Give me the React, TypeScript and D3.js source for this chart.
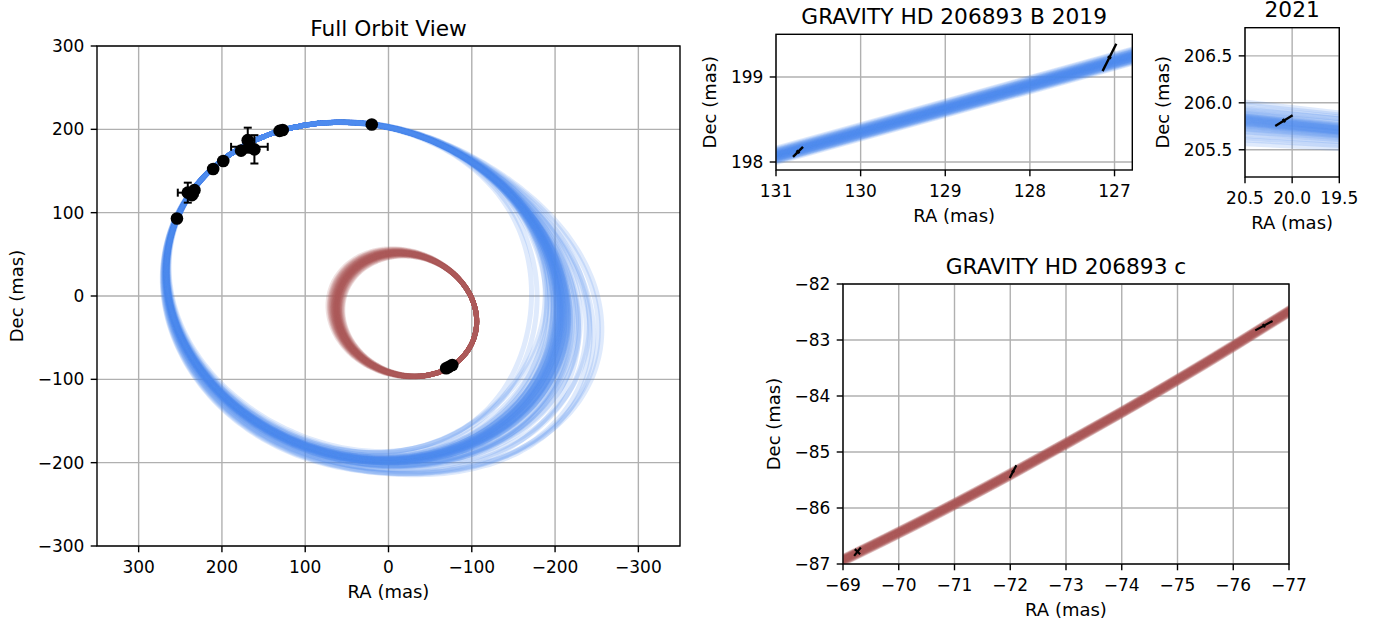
import * as d3 from "d3";

// ---- data ----
// full orbit view: best-fit projected orbits (centre RA, centre Dec, semi-major, semi-minor in mas, tilt in deg)
const bOrbit = [30.5, 5.8, 240, 198, -18.5];
const cOrbit = [-22.3, -22.7, 85, 72, -20];
// angle (deg) of the well-constrained arc and of the directions where the draws fan out
const bFixedAngle = 123;
const bFanAngle = -15;
const bSideAngle = 200;
const cFanAngle = 160;
// posterior draws: radial fan-out factor and fan direction shift (deg)
const bDraw = [0.05, -0.12, 0.15, 0.02, -0.25, 0.32, 0.08, -0.06, 0.2, 0.0, -0.15, 0.55, 0.1, -0.03, 0.26, -0.36, 0.06, 0.17, -0.09, 0.42, 0.03, -0.18, 0.65, 0.09, -0.05, 0.23, 0.01, -0.28, 0.14, 0.5, -0.11, 0.05, 0.35, -0.02, 0.12, -0.45, 0.18, 0.6, -0.08, 0.04, 0.3, -0.21, 0.07, 0.46, -0.04, 0.13, -0.01, 0.22, 0.03, -0.07, 0.11, -0.01, 0.06, -0.1, 0.0, 0.08, -0.04, 0.02, 0.13, -0.02];
const bShift = [4, -8, 12, 0, -15, 6, -3, 10, -12, 2, 8, -6, 14, -10, 3, 9, -4, -14, 7, -2, 11, -9, 5, -5, 15, -1, 6, -11, 1, -7, 13, -3, -16, 8, 0, 10, -6, 3, -13, 5, -2, 12, -8, 7, -4, 2, 9, -10, 3, -5, 0, 6, -2, 8, -7, 1, 4, -3, 2, -1];
const cDraw = [0.01, 0.04, -0.02, 0.07, 0.0, -0.05, 0.03, 0.1, -0.01, 0.05, 0.02, -0.07, 0.12, 0.0, 0.03, -0.03, 0.06, 0.01, -0.04, 0.08, 0.02, 0.0, 0.14, -0.02, 0.04, 0.01, -0.06, 0.05, 0.09, -0.01, 0.03, 0.0, 0.11, -0.03, 0.02, 0.06, -0.08, 0.04, 0.01, 0.07];

// astrometry points: RA, Dec, RA err, Dec err
const bPtRA = [254, 241, 233, 236, 210.5, 198.4, 177, 169, 167, 161, 130.74, 127.06, 20.09];
const bPtDec = [93, 124, 127, 121, 152.4, 162, 174.4, 187, 179, 176, 198.12, 199.23, 205.81];
const bPtRAErr = [2, 12, 3, 3, 2, 2, 3, 3, 22, 4, 0.1, 0.1, 0.1];
const bPtDecErr = [2, 12, 3, 3, 2, 2, 3, 15, 4, 17, 0.1, 0.1, 0.1];
const cPtRA = [-69.26, -72.05, -76.55];
const cPtDec = [-86.78, -85.35, -82.745];

// zoomed GRAVITY epochs: track samples
const b19TrackRA = [131.3, 126.5];
const b19TrackDec = [197.99, 199.32];
const b19Offset = [0.01, -0.03, 0.04, -0.01, 0.06, -0.05, 0.02, 0.0, -0.07, 0.03, -0.02, 0.08, 0.01, -0.04, 0.05, -0.01, 0.02, -0.06, 0.03, 0.0, -0.03, 0.07, -0.02, 0.04, 0.01, -0.08, 0.02, -0.01, 0.05, -0.04, 0.03, 0.0, -0.05, 0.06, -0.02, 0.01, 0.09, -0.03, 0.02, -0.06];
const b21TrackRA = [20.6, 19.4];
const b21TrackDec = [205.81, 205.69];
const b21Offset = [0.02, -0.05, 0.08, -0.01, 0.04, -0.12, 0.0, 0.06, -0.03, 0.15, -0.08, 0.03, -0.2, 0.05, -0.02, 0.1, -0.06, 0.01, 0.21, -0.04, 0.07, -0.15, 0.02, -0.09, 0.04, 0.12, -0.01, -0.24, 0.06, -0.03, 0.18, -0.07, 0.0, 0.09, -0.11, 0.03, -0.18, 0.05, -0.02, 0.13];
const b21Tilt = [0.0, 0.01, -0.01, 0.0, 0.01, 0.03, 0.0, -0.01, 0.01, 0.0, 0.02, 0.0, 0.05, -0.01, 0.01, 0.0, 0.02, 0.0, -0.02, 0.01, 0.0, 0.04, 0.0, 0.02, -0.01, 0.01, 0.0, 0.06, 0.0, 0.01, -0.01, 0.02, 0.0, 0.0, 0.03, 0.0, 0.05, -0.01, 0.01, 0.0];
const cTrackRA = [-68.8, -69, -70, -71, -72, -73, -74, -75, -76, -77, -77.2];
const cTrackDec = [-87.03, -86.93, -86.44, -85.93, -85.4, -84.85, -84.29, -83.71, -83.11, -82.49, -82.36];
const cOffset = [0.0, 0.03, -0.02, 0.05, -0.04, 0.01, 0.02, -0.06, 0.04, -0.01, 0.06, -0.03, 0.0, 0.02, -0.05, 0.03, -0.02, 0.07, 0.01, -0.04, 0.02, -0.01, 0.04, -0.06, 0.0, 0.03, -0.03, 0.05, 0.01, -0.02, 0.06, -0.05, 0.02, 0.0, -0.07, 0.04, -0.01, 0.03, -0.03, 0.01];

// error crosses: RA, Dec, major half-axis (dRA, dDec), minor half-axis (dRA, dDec)
const b19Points = [
  [130.74, 198.12, -0.059, 0.059, -0.017, -0.017],
  [127.06, 199.23, -0.081, 0.161, -0.021, -0.0105],
];
const b21Points = [[20.087, 205.81, -0.092, 0.057, -0.011, -0.018]];
const cPoints = [
  [-69.26, -86.78, -0.06, 0.074, -0.048, -0.045],
  [-72.05, -85.35, -0.06, 0.113, -0.024, -0.0125],
  [-76.55, -82.745, -0.155, 0.083, -0.017, -0.031],
];

// tick labels
const fullTicks = [300, 200, 100, 0, -100, -200, -300];
const b19XTicks = [131, 130, 129, 128, 127];
const b19YTicks = [198, 199];
const b21XTicks = [20.5, 20.0, 19.5];
const b21YTicks = [205.5, 206.0, 206.5];
const cXTicks = [-69, -70, -71, -72, -73, -74, -75, -76, -77];
const cYTicks = [-87, -86, -85, -84, -83, -82];

const BLUE = "#4e8af0";
const RED = "#ae5757";
const FONT = "DejaVu Sans";
const LW = 5;
const ALPHA = 0.18;
const RAD = Math.PI / 180;

const fmt = (v: number, d: number) => (v < 0 ? "\u2212" : "") + Math.abs(v).toFixed(d);

type Scale = d3.ScaleLinear<number, number>;

function Panel({ id, box, xDomain, yDomain, xTicks, yTicks, xDigits, yDigits, title, yLabelGap, children }: any) {
  const x: Scale = d3.scaleLinear().domain(xDomain).range([box.x, box.x + box.w]);
  const y: Scale = d3.scaleLinear().domain(yDomain).range([box.y + box.h, box.y]);
  const bottom = box.y + box.h;
  return (
    <g>
      <defs>
        <clipPath id={id}>
          <rect x={box.x} y={box.y} width={box.w} height={box.h} />
        </clipPath>
      </defs>
      <rect x={box.x} y={box.y} width={box.w} height={box.h} fill="#fff" />
      {xTicks.map((t: number) => (
        <line key={"gx" + t} x1={x(t)} x2={x(t)} y1={box.y} y2={bottom} stroke="#b0b0b0" strokeWidth={1.4} />
      ))}
      {yTicks.map((t: number) => (
        <line key={"gy" + t} x1={box.x} x2={box.x + box.w} y1={y(t)} y2={y(t)} stroke="#b0b0b0" strokeWidth={1.4} />
      ))}
      <g clipPath={`url(#${id})`}>{children(x, y)}</g>
      <rect x={box.x} y={box.y} width={box.w} height={box.h} fill="none" stroke="#000" strokeWidth={1.4} />
      {xTicks.map((t: number) => (
        <g key={"tx" + t}>
          <line x1={x(t)} x2={x(t)} y1={bottom} y2={bottom + 6.3} stroke="#000" strokeWidth={1.4} />
          <text x={x(t)} y={bottom + 27} textAnchor="middle" fontSize={17}>{fmt(t, xDigits)}</text>
        </g>
      ))}
      {yTicks.map((t: number) => (
        <g key={"ty" + t}>
          <line x1={box.x - 6.3} x2={box.x} y1={y(t)} y2={y(t)} stroke="#000" strokeWidth={1.4} />
          <text x={box.x - 12.6} y={y(t)} dy="0.35em" textAnchor="end" fontSize={17}>{fmt(t, yDigits)}</text>
        </g>
      ))}
      <text x={box.x + box.w / 2} y={box.y - 10.5} textAnchor="middle" fontSize={21.7}>{title}</text>
      <text x={box.x + box.w / 2} y={bottom + 52} textAnchor="middle" fontSize={18}>RA (mas)</text>
      <text transform={`translate(${box.x - yLabelGap},${box.y + box.h / 2}) rotate(-90)`} dy="0.35em" textAnchor="middle" fontSize={18}>Dec (mas)</text>
    </g>
  );
}

// projected orbit, each point pushed radially by fan(angle) (angles measured with east = -RA to the right)
function orbitPath(orbit: number[], fan: (phi: number) => number, x: Scale, y: Scale) {
  const [cRA, cDec, a, b, tilt] = orbit;
  const ct = Math.cos(tilt * RAD), st = Math.sin(tilt * RAD);
  const pts = d3.range(0, 360, 2).map((t) => {
    const u = a * Math.cos(t * RAD) * ct - b * Math.sin(t * RAD) * st;
    const v = a * Math.cos(t * RAD) * st + b * Math.sin(t * RAD) * ct;
    const s = 1 + fan(Math.atan2(v, u) / RAD);
    return [x(cRA - u * s), y(cDec + v * s)] as [number, number];
  });
  return d3.line().curve(d3.curveCatmullRomClosed)(pts) || "";
}

const bump = (phi: number, centre: number, p: number) => Math.pow((1 + Math.cos((phi - centre) * RAD)) / 2, p);

function Cross({ p, x, y, w }: { p: number[]; x: Scale; y: Scale; w: number }) {
  const [ra, dec, a1, d1, a2, d2] = p;
  return (
    <g stroke="#000" strokeWidth={w}>
      <line x1={x(ra - a1)} y1={y(dec - d1)} x2={x(ra + a1)} y2={y(dec + d1)} />
      <line x1={x(ra - a2)} y1={y(dec - d2)} x2={x(ra + a2)} y2={y(dec + d2)} />
    </g>
  );
}

export default function App() {
  const straight = d3.line();
  const smooth = d3.line().curve(d3.curveNatural);
  const bFan = (g: number, k: number) => (phi: number) =>
    g * (1 - bump(phi, bFixedAngle, 1)) * (0.08 + 0.1 * bump(phi, bSideAngle, 3) + 0.32 * bump(phi, bFanAngle + bShift[k], 6));
  return (
    <svg width={1377} height={621} style={{ position: "absolute", left: 0, top: 0, background: "#fff" }} fontFamily={FONT}>
      <Panel id="full" box={{ x: 97, y: 46, w: 583, h: 500 }} xDomain={[350, -350]} yDomain={[-300, 300]}
        xTicks={fullTicks} yTicks={fullTicks} xDigits={0} yDigits={0} title="Full Orbit View" yLabelGap={80}>
        {(x: Scale, y: Scale) => (
          <g>
            {bDraw.map((g, k) => (
              <path key={"b" + k} d={orbitPath(bOrbit, bFan(g, k), x, y)}
                fill="none" stroke={BLUE} strokeWidth={LW} strokeOpacity={ALPHA} />
            ))}
            {cDraw.map((g, k) => (
              <path key={"c" + k} d={orbitPath(cOrbit, (phi) => g * bump(phi, cFanAngle, 2), x, y)}
                fill="none" stroke={RED} strokeWidth={LW} strokeOpacity={ALPHA} />
            ))}
            {bPtRA.map((r, i) => (
              <g key={"e" + i} stroke="#000" strokeWidth={2}>
                <line x1={x(r - bPtRAErr[i])} x2={x(r + bPtRAErr[i])} y1={y(bPtDec[i])} y2={y(bPtDec[i])} />
                <line x1={x(r)} x2={x(r)} y1={y(bPtDec[i] - bPtDecErr[i])} y2={y(bPtDec[i] + bPtDecErr[i])} />
                <line x1={x(r - bPtRAErr[i])} x2={x(r - bPtRAErr[i])} y1={y(bPtDec[i]) - 4} y2={y(bPtDec[i]) + 4} />
                <line x1={x(r + bPtRAErr[i])} x2={x(r + bPtRAErr[i])} y1={y(bPtDec[i]) - 4} y2={y(bPtDec[i]) + 4} />
                <line x1={x(r) - 4} x2={x(r) + 4} y1={y(bPtDec[i] - bPtDecErr[i])} y2={y(bPtDec[i] - bPtDecErr[i])} />
                <line x1={x(r) - 4} x2={x(r) + 4} y1={y(bPtDec[i] + bPtDecErr[i])} y2={y(bPtDec[i] + bPtDecErr[i])} />
              </g>
            ))}
            {bPtRA.map((r, i) => <circle key={"p" + i} cx={x(r)} cy={y(bPtDec[i])} r={6.3} fill="#000" />)}
            {cPtRA.map((r, i) => <circle key={"q" + i} cx={x(r)} cy={y(cPtDec[i])} r={6.3} fill="#000" />)}
          </g>
        )}
      </Panel>

      <Panel id="b19" box={{ x: 776, y: 34.3, w: 356.3, h: 135.7 }} xDomain={[131, 126.79]} yDomain={[197.906, 199.502]}
        xTicks={b19XTicks} yTicks={b19YTicks} xDigits={0} yDigits={0} title="GRAVITY HD 206893 B 2019" yLabelGap={66}>
        {(x: Scale, y: Scale) => (
          <g>
            {b19Offset.map((o, k) => (
              <path key={k} d={straight(b19TrackRA.map((r, i) => [x(r), y(b19TrackDec[i] + o)] as [number, number])) || ""}
                fill="none" stroke={BLUE} strokeWidth={LW} strokeOpacity={ALPHA} />
            ))}
            {b19Points.map((p, i) => <Cross key={i} p={p} x={x} y={y} w={2.4} />)}
          </g>
        )}
      </Panel>

      <Panel id="b21" box={{ x: 1245, y: 27.7, w: 94.3, h: 149.3 }} xDomain={[20.5, 19.5]} yDomain={[205.21, 206.8]}
        xTicks={b21XTicks} yTicks={b21YTicks} xDigits={1} yDigits={1} title="2021" yLabelGap={82}>
        {(x: Scale, y: Scale) => (
          <g>
            {b21Offset.map((o, k) => (
              <path key={k} d={straight([
                [x(b21TrackRA[0]), y(b21TrackDec[0] + o)],
                [x(b21TrackRA[1]), y(b21TrackDec[1] + o + b21Tilt[k])],
              ]) || ""} fill="none" stroke={BLUE} strokeWidth={LW} strokeOpacity={ALPHA} />
            ))}
            {b21Points.map((p, i) => <Cross key={i} p={p} x={x} y={y} w={2.4} />)}
          </g>
        )}
      </Panel>

      <Panel id="cz" box={{ x: 843, y: 284, w: 446, h: 280 }} xDomain={[-69, -77]} yDomain={[-87, -82]}
        xTicks={cXTicks} yTicks={cYTicks} xDigits={0} yDigits={0} title="GRAVITY HD 206893 c" yLabelGap={69}>
        {(x: Scale, y: Scale) => (
          <g>
            {cOffset.map((o, k) => (
              <path key={k} d={smooth(cTrackRA.map((r, i) => [x(r), y(cTrackDec[i] + o)] as [number, number])) || ""}
                fill="none" stroke={RED} strokeWidth={LW} strokeOpacity={ALPHA} />
            ))}
            {cPoints.map((p, i) => <Cross key={i} p={p} x={x} y={y} w={2.2} />)}
          </g>
        )}
      </Panel>
    </svg>
  );
}
